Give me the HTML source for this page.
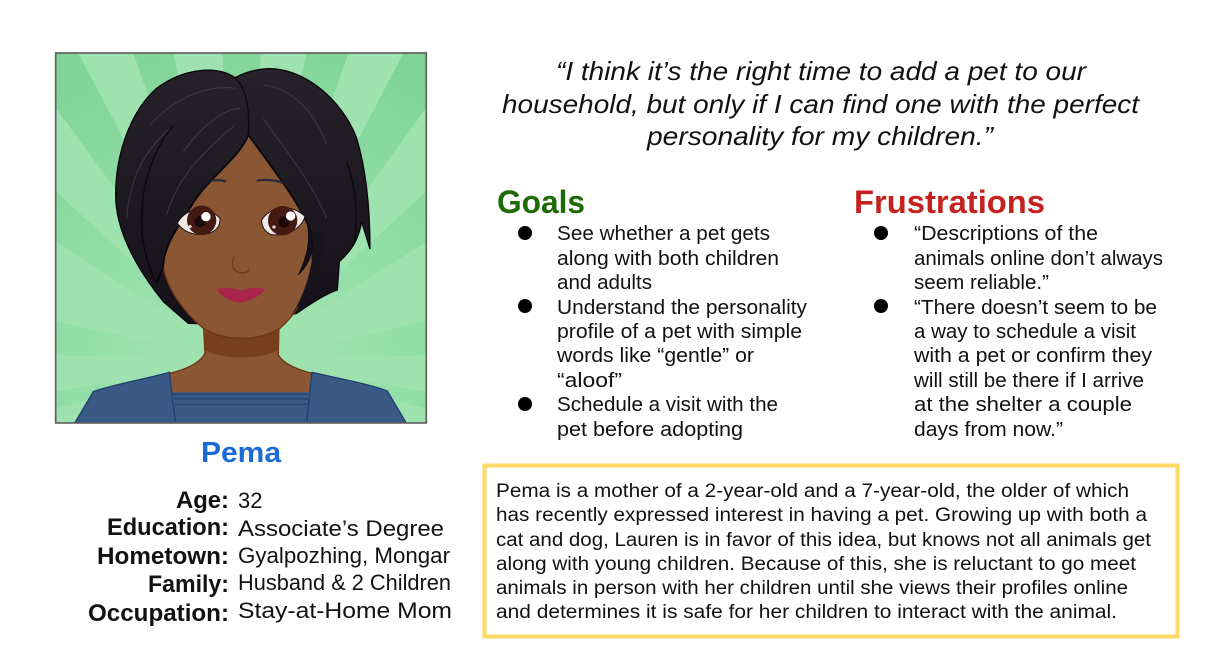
<!DOCTYPE html>
<html lang="en">
<head>
<meta charset="utf-8">
<title>Pema persona</title>
<style>
html,body{margin:0;padding:0;background:#fff;width:1213px;height:672px;overflow:hidden}
svg{display:block}
text{font-family:"Liberation Sans",sans-serif;fill:#111}
.q{font-size:26px;font-style:italic}
.b{font-size:20px}
.p{font-size:19px}
.l{font-size:24px;font-weight:bold;text-anchor:end}
.v{font-size:22px}
.h{font-size:32px;font-weight:bold}
</style>
</head>
<body>
<svg width="1213" height="672" viewBox="0 0 1213 672" xmlns="http://www.w3.org/2000/svg">
<defs>
  <radialGradient id="rayFade" gradientUnits="userSpaceOnUse" cx="575" cy="950" r="1000">
    <stop offset="0" stop-color="#9ee2b0"/>
    <stop offset=".2" stop-color="#9ee2b0"/>
    <stop offset=".55" stop-color="#90dda5"/>
    <stop offset="1" stop-color="#80d497"/>
  </radialGradient>
  <linearGradient id="hairFill" x1="0" y1="0" x2="0" y2="1">
    <stop offset="0" stop-color="#27222a"/>
    <stop offset="1" stop-color="#14111a"/>
  </linearGradient>
</defs>
<rect width="1213" height="672" fill="#fff"/>

<g transform="translate(50 45) scale(.3333)">
  <rect x="18" y="25" width="1110" height="1108" fill="#9ee2b0"/>
  <g fill="url(#rayFade)">
    <polygon points="575,950 85,25 18,25 18,190"/>
    <polygon points="575,950 250,25 370,25"/>
    <polygon points="575,950 517,25 632,25"/>
    <polygon points="575,950 770,25 895,25"/>
    <polygon points="575,950 1060,25 1128,25 1128,190"/>
    <polygon points="575,950 18,440 18,590"/>
    <polygon points="575,950 1128,440 1128,590"/>
    <polygon points="575,950 18,830 18,930"/>
    <polygon points="575,950 1128,830 1128,930"/>
    <polygon points="575,950 18,1040 18,1090"/>
    <polygon points="575,950 1128,1040 1128,1090"/>
  </g>
  <path d="M555 98C500 60 400 70 320 130C240 200 197 330 197 450C197 560 260 670 340 770L415 835L600 840L740 805C790 770 830 745 862 735L868 650C900 620 925 590 935 530L960 612C960 500 950 380 920 280C880 170 760 60 640 72C610 75 580 85 555 98Z" fill="url(#hairFill)" stroke="#07060a" stroke-width="4" stroke-linejoin="miter"/>
  <path d="M300 240C380 150 480 120 560 130M400 320C450 250 520 190 570 190M350 510C380 400 460 320 555 240M640 120C720 130 790 190 830 300M640 220C700 310 780 400 830 520M230 520C240 400 280 320 360 250" fill="none" stroke="#3d3940" stroke-width="3"/>
  <path d="M555 98C590 130 600 190 595 270M280 600C260 480 290 340 370 240M320 715C280 640 270 560 280 470M890 350C915 420 925 500 915 590" fill="none" stroke="#0b090e" stroke-width="4"/>
  <path d="M460 830L465 925C450 955 410 972 360 985L360 1048L785 1048L785 985C735 972 700 955 685 930L687 830Z" fill="#8b5633" stroke="#6e3512" stroke-width="4"/>
  <path d="M462 860L466 915C520 945 630 945 686 915L687 860Z" fill="#773f1d"/>
  <path d="M595 270C570 340 470 400 420 490C380 550 340 610 340 665C350 730 400 800 460 850C520 890 630 890 690 850C730 815 770 740 785 650L785 570C760 490 690 400 595 270Z" fill="#8b5633"/>
  <path d="M340 665C350 730 400 800 460 850C520 890 630 890 690 850C710 832 730 810 745 785" fill="none" stroke="#6e3512" stroke-width="4"/>
  <path d="M595 270C570 340 470 400 420 490C380 550 340 610 340 665L320 715M595 270C690 400 760 490 785 570" fill="none" stroke="#07060a" stroke-width="5"/>
  <path d="M770 530L788 570C792 610 785 650 745 690C768 640 785 590 770 530Z" fill="#14111a" stroke="#07060a" stroke-width="2"/>
  <path d="M785 570C792 610 790 650 782 690L820 700L820 560Z" fill="#17141c"/>
  <path d="M484 407C500 404 515 405 528 410" fill="none" stroke="#2a2a3c" stroke-width="7"/>
  <path d="M620 407C645 403 675 405 700 414" fill="none" stroke="#2a2a3c" stroke-width="7"/>
  <path d="M382 535C405 490 470 475 510 520C512 555 480 572 440 568C415 565 395 552 382 535Z" fill="#efeae8" stroke="#1a1012" stroke-width="3"/>
  <circle cx="455" cy="526" r="44" fill="#451a13"/>
  <circle cx="450" cy="530" r="17" fill="#1c0808"/>
  <circle cx="468" cy="515" r="14" fill="#fff"/>
  <circle cx="420" cy="545" r="5" fill="#e6d5d0"/>
  <path d="M635 525C665 478 735 480 765 515C752 555 705 576 662 568C645 560 635 545 635 525Z" fill="#efeae8" stroke="#1a1012" stroke-width="3"/>
  <circle cx="698" cy="527" r="44" fill="#451a13"/>
  <circle cx="702" cy="531" r="17" fill="#1c0808"/>
  <circle cx="722" cy="513" r="14" fill="#fff"/>
  <circle cx="672" cy="546" r="5" fill="#e6d5d0"/>
  <path d="M552 635C542 660 550 682 575 684C590 684 598 678 598 672" fill="none" stroke="#733f1c" stroke-width="5"/>
  <path d="M500 732C530 725 555 730 573 737C590 730 620 726 646 732C625 760 590 773 565 772C540 770 515 755 500 732Z" fill="#a9244a"/>
  <path d="M368 1042L780 1042L770 1133L375 1133Z" fill="#3a5a85"/>
  <path d="M370 1048H776M372 1062H775M374 1078H773" stroke="#1f3f6e" stroke-width="3" fill="none"/>
  <path d="M75 1133L130 1040C180 1020 300 1000 358 982L376 1133Z" fill="#3a5a85" stroke="#1f3f72" stroke-width="4"/>
  <path d="M1068 1133L1012 1038C950 1015 860 1000 786 982L770 1133Z" fill="#3a5a85" stroke="#1f3f72" stroke-width="4"/>
  <rect x="17" y="24" width="1112" height="1110" fill="none" stroke="#5f5f5f" stroke-width="5"/>
</g>

<text x="241" y="462" text-anchor="middle" font-size="29" font-weight="bold" style="fill:#1a6bd6" textLength="80" lengthAdjust="spacingAndGlyphs">Pema</text>

<g>
  <text class="l" x="229" y="508" textLength="53" lengthAdjust="spacingAndGlyphs">Age:</text>
  <text class="v" x="238" y="508">32</text>
  <text class="l" x="229" y="535" textLength="122" lengthAdjust="spacingAndGlyphs">Education:</text>
  <text class="v" x="238" y="536" textLength="206" lengthAdjust="spacingAndGlyphs">Associate’s Degree</text>
  <text class="l" x="229" y="564" textLength="132" lengthAdjust="spacingAndGlyphs">Hometown:</text>
  <text class="v" x="238" y="563" textLength="212" lengthAdjust="spacingAndGlyphs">Gyalpozhing, Mongar</text>
  <text class="l" x="229" y="592" textLength="81" lengthAdjust="spacingAndGlyphs">Family:</text>
  <text class="v" x="238" y="590" textLength="213" lengthAdjust="spacingAndGlyphs">Husband &amp; 2 Children</text>
  <text class="l" x="229" y="621" textLength="141" lengthAdjust="spacingAndGlyphs">Occupation:</text>
  <text class="v" x="238" y="618" textLength="214" lengthAdjust="spacingAndGlyphs">Stay-at-Home Mom</text>
</g>

<g>
  <text class="q" x="556" y="80" textLength="530" lengthAdjust="spacingAndGlyphs">“I think it’s the right time to add a pet to our</text>
  <text class="q" x="502" y="113" textLength="637" lengthAdjust="spacingAndGlyphs">household, but only if I can find one with the perfect</text>
  <text class="q" x="647" y="145" textLength="346" lengthAdjust="spacingAndGlyphs">personality for my children.”</text>
</g>

<text class="h" x="497" y="213" style="fill:#1e6b06" textLength="88" lengthAdjust="spacingAndGlyphs">Goals</text>
<g>
  <circle cx="525" cy="233" r="7" fill="#000"/>
  <text class="b" x="557" y="240" textLength="213" lengthAdjust="spacingAndGlyphs">See whether a pet gets</text>
  <text class="b" x="557" y="265" textLength="222" lengthAdjust="spacingAndGlyphs">along with both children</text>
  <text class="b" x="557" y="289" textLength="95" lengthAdjust="spacingAndGlyphs">and adults</text>
  <circle cx="525" cy="306" r="7" fill="#000"/>
  <text class="b" x="557" y="314" textLength="250" lengthAdjust="spacingAndGlyphs">Understand the personality</text>
  <text class="b" x="557" y="338" textLength="245" lengthAdjust="spacingAndGlyphs">profile of a pet with simple</text>
  <text class="b" x="557" y="362" textLength="197" lengthAdjust="spacingAndGlyphs">words like “gentle” or</text>
  <text class="b" x="557" y="387" textLength="65" lengthAdjust="spacingAndGlyphs">“aloof”</text>
  <circle cx="525" cy="404" r="7" fill="#000"/>
  <text class="b" x="557" y="411" textLength="221" lengthAdjust="spacingAndGlyphs">Schedule a visit with the</text>
  <text class="b" x="557" y="436" textLength="186" lengthAdjust="spacingAndGlyphs">pet before adopting</text>
</g>

<text class="h" x="854" y="213" style="fill:#c5221f" textLength="191" lengthAdjust="spacingAndGlyphs">Frustrations</text>
<g>
  <circle cx="881" cy="233" r="7" fill="#000"/>
  <text class="b" x="914" y="240" textLength="184" lengthAdjust="spacingAndGlyphs">“Descriptions of the</text>
  <text class="b" x="914" y="265" textLength="249" lengthAdjust="spacingAndGlyphs">animals online don’t always</text>
  <text class="b" x="914" y="289" textLength="135" lengthAdjust="spacingAndGlyphs">seem reliable.”</text>
  <circle cx="881" cy="306" r="7" fill="#000"/>
  <text class="b" x="914" y="314" textLength="243" lengthAdjust="spacingAndGlyphs">“There doesn’t seem to be</text>
  <text class="b" x="914" y="338" textLength="222" lengthAdjust="spacingAndGlyphs">a way to schedule a visit</text>
  <text class="b" x="914" y="362" textLength="238" lengthAdjust="spacingAndGlyphs">with a pet or confirm they</text>
  <text class="b" x="914" y="387" textLength="230" lengthAdjust="spacingAndGlyphs">will still be there if I arrive</text>
  <text class="b" x="914" y="411" textLength="218" lengthAdjust="spacingAndGlyphs">at the shelter a couple</text>
  <text class="b" x="914" y="436" textLength="149" lengthAdjust="spacingAndGlyphs">days from now.”</text>
</g>

<g>
  <rect x="484.500" y="465.500" width="693" height="171" fill="#fff" stroke="#ffd966" stroke-width="4"/>
  <text class="p" x="496" y="497" textLength="633" lengthAdjust="spacingAndGlyphs">Pema is a mother of a 2-year-old and a 7-year-old, the older of which</text>
  <text class="p" x="496" y="521" textLength="651" lengthAdjust="spacingAndGlyphs">has recently expressed interest in having a pet. Growing up with both a</text>
  <text class="p" x="496" y="546" textLength="655" lengthAdjust="spacingAndGlyphs">cat and dog, Lauren is in favor of this idea, but knows not all animals get</text>
  <text class="p" x="496" y="570" textLength="640" lengthAdjust="spacingAndGlyphs">along with young children. Because of this, she is reluctant to go meet</text>
  <text class="p" x="496" y="594" textLength="632" lengthAdjust="spacingAndGlyphs">animals in person with her children until she views their profiles online</text>
  <text class="p" x="496" y="618" textLength="621" lengthAdjust="spacingAndGlyphs">and determines it is safe for her children to interact with the animal.</text>
</g>
</svg>
</body>
</html>
